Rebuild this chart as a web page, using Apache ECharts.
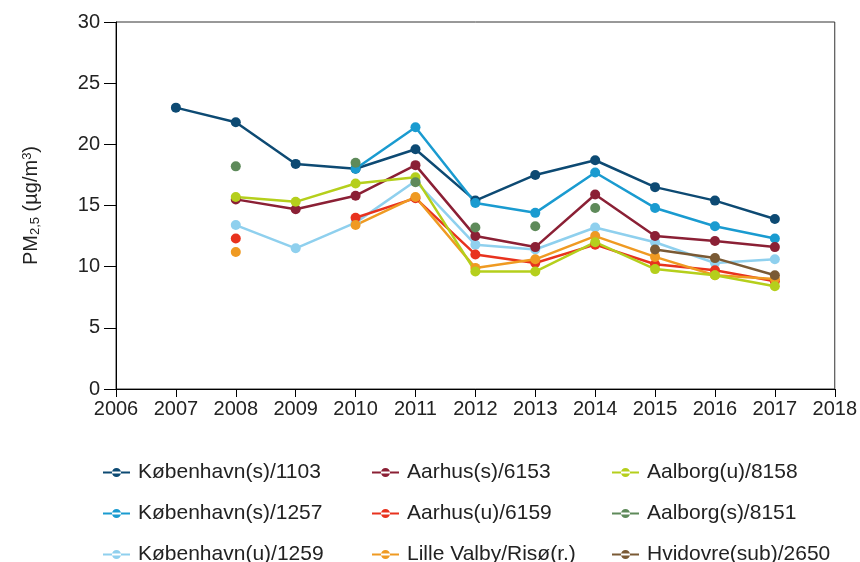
<!DOCTYPE html>
<html>
<head>
<meta charset="utf-8">
<script src="https://cdn.jsdelivr.net/npm/echarts@6/dist/echarts.min.js"></script>
<style>body{margin:0}#main{width:860px;height:562px}</style>
</head>
<body>
<div id="main"></div>
<script>
var years = [2007, 2008, 2009, 2010, 2011, 2012, 2013, 2014, 2015, 2016, 2017];
var names = ['København(s)/1103', 'København(s)/1257', 'København(u)/1259',
  'Aarhus(s)/6153', 'Aarhus(u)/6159', 'Lille Valby/Risø(r.)',
  'Aalborg(u)/8158', 'Aalborg(s)/8151', 'Hvidovre(sub)/2650'];
var colors = ['#0d4a73', '#1a9bd0', '#8fd0ee', '#8b2035', '#e8321e', '#ef9a22', '#b5cf1c', '#5e8a5a', '#7a5a35'];
var kbh1103 = [23.0, 21.8, 18.4, 18.0, 19.6, 15.4, 17.5, 18.7, 16.5, 15.4, 13.9];
var kbh1257 = [null, null, null, 18.0, 21.4, 15.2, 14.4, 17.7, 14.8, 13.3, 12.3];
var kbh1259 = [null, 13.4, 11.5, 13.6, 17.0, 11.8, 11.4, 13.2, 12.0, 10.3, 10.6];
var aar6153 = [null, 15.5, 14.7, 15.8, 18.3, 12.5, 11.6, 15.9, 12.5, 12.1, 11.6];
var aar6159 = [null, 12.3, null, 14.0, 15.6, 11.0, 10.3, 11.8, 10.2, 9.7, 8.8];
var lille = [null, 11.2, null, 13.4, 15.7, 9.9, 10.6, 12.5, 10.8, 9.3, 9.0];
var aal8158 = [null, 15.7, 15.3, 16.8, 17.3, 9.6, 9.6, 12.0, 9.8, 9.3, 8.4];
var aal8151 = [null, 18.2, null, 18.5, 16.9, 13.2, 13.3, 14.8, null, null, null];
var hvid = [null, null, null, null, null, null, null, null, 11.4, 10.7, 9.3];
var allData = [kbh1103, kbh1257, kbh1259, aar6153, aar6159, lille, aal8158, aal8151, hvid];

var series = allData.map(function (vals, i) {
  return {
    name: names[i], type: 'line', symbol: 'circle', symbolSize: 10,
    connectNulls: false,
    lineStyle: { width: i === 7 ? 0 : 2.5, color: colors[i] },
    itemStyle: { color: colors[i] },
    data: vals.map(function (v, j) { return [years[j], v]; })
  };
});

function leg(left, idx) {
  return {
    left: left, top: 457, height: 140, orient: 'vertical', itemGap: 20, itemWidth: 27, itemHeight: 12,
    textStyle: { fontSize: 21, color: '#222', fontFamily: 'Liberation Sans', padding: [0, 0, 0, 3] },
    data: idx.map(function (i) { return { name: names[i], icon: 'path://M0,5 L30,5 L30,7 L0,7 Z M15,6 m-5,0 a5,5 0 1,0 10,0 a5,5 0 1,0 -10,0' }; })
  };
}

var chart = echarts.init(document.getElementById('main'));
chart.setOption({
  color: colors,
  animation: false,
  grid: { left: 116, right: 25, top: 22, bottom: 173, show: true, borderColor: '#333', borderWidth: 1 },
  legend: [leg(98, [0, 1, 2]), leg(367, [3, 4, 5]), leg(607, [6, 7, 8])],
  xAxis: {
    type: 'value', min: 2006, max: 2018, interval: 1,
    axisLine: { lineStyle: { color: '#000' } },
    axisTick: { lineStyle: { color: '#000' }, length: 8 },
    axisLabel: { color: '#222', fontSize: 20, fontFamily: 'Liberation Sans', margin: 10,
      formatter: function (v) { return String(v); } },
    splitLine: { show: false }
  },
  yAxis: {
    type: 'value', min: 0, max: 30, interval: 5,
    name: '{a|PM}{s|2,5}{a| (µg/m}{p|3}{a|)}', nameLocation: 'middle', nameGap: 74, nameRotate: 90,
    nameTextStyle: { rich: {
      a: { fontSize: 20, color: '#222', fontFamily: 'Liberation Sans' },
      s: { fontSize: 13, color: '#222', verticalAlign: 'bottom', padding: [8, 0, 0, 0], fontFamily: 'Liberation Sans' },
      p: { fontSize: 13, color: '#222', verticalAlign: 'top', padding: [0, 0, 8, 0], fontFamily: 'Liberation Sans' }
    } },
    axisLine: { show: true, lineStyle: { color: '#000' } },
    axisTick: { show: true, lineStyle: { color: '#000' }, length: 12 },
    axisLabel: { color: '#222', fontSize: 20, fontFamily: 'Liberation Sans', margin: 16 },
    splitLine: { show: false }
  },
  series: series
});
</script>
</body>
</html>
